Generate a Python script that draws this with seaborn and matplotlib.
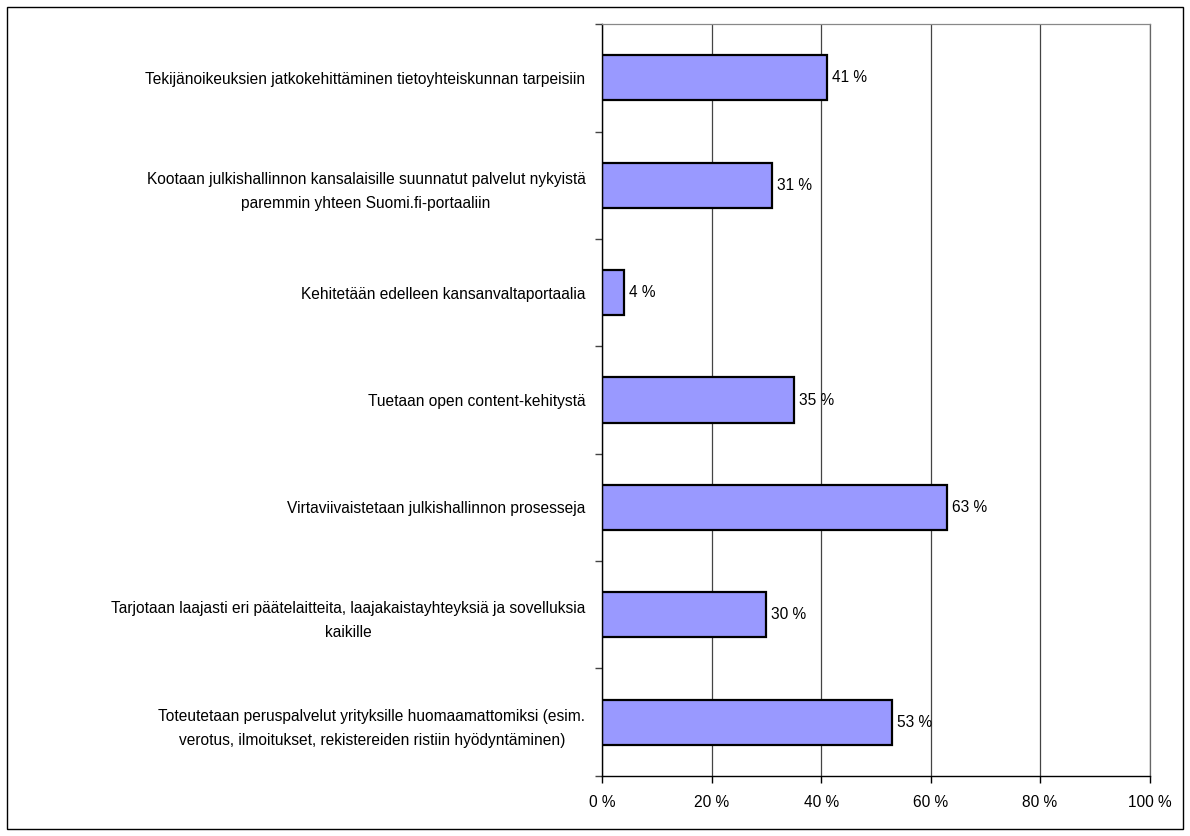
import matplotlib
matplotlib.use("Agg")
import matplotlib.pyplot as plt
import numpy as np
import pandas as pd
import seaborn as sns
from matplotlib.patches import Rectangle

categories = [
    "Tekijänoikeuksien jatkokehittäminen tietoyhteiskunnan tarpeisiin",
    "Kootaan julkishallinnon kansalaisille suunnatut palvelut nykyistä\nparemmin yhteen Suomi.fi-portaaliin",
    "Kehitetään edelleen kansanvaltaportaalia",
    "Tuetaan open content-kehitystä",
    "Virtaviivaistetaan julkishallinnon prosesseja",
    "Tarjotaan laajasti eri päätelaitteita, laajakaistayhteyksiä ja sovelluksia\nkaikille",
    "Toteutetaan peruspalvelut yrityksille huomaamattomiksi (esim.\nverotus, ilmoitukset, rekistereiden ristiin hyödyntäminen)",
]
values = [41, 31, 4, 35, 63, 30, 53]
x_ticks = [0, 20, 40, 60, 80, 100]

sns.set_style("white")
plt.rcParams["font.family"] = ["Liberation Sans", "DejaVu Sans"]
plt.rcParams["text.color"] = "black"
plt.rcParams["xtick.color"] = "black"
plt.rcParams["ytick.color"] = "black"

df = pd.DataFrame({"label": categories, "value": values})

fig = plt.figure(figsize=(11.9, 8.36), dpi=100)
ax = fig.add_axes([0.506, 0.072, 0.46, 0.899])

sns.barplot(data=df, y="label", x="value", orient="h", color="#9999FF",
            edgecolor="black", linewidth=1.6, width=0.42, ax=ax, saturation=1)

ax.set_xlim(0, 100)
ax.set_ylim(len(categories) - 0.5, -0.5)
ax.set_xticks(x_ticks)
ax.set_xticklabels([f"{t} %" for t in x_ticks], fontsize=11.2)
ax.tick_params(axis="x", bottom=True, direction="out", length=5, width=1,
               color="black", pad=9)
ax.tick_params(axis="y", which="major", left=True, length=0, pad=12, labelsize=11.2)
for lbl in ax.get_yticklabels():
    lbl.set_multialignment("center")
    lbl.set_linespacing(1.75)
ax.set_yticks(np.arange(-0.5, len(categories), 1), minor=True)
ax.tick_params(axis="y", which="minor", left=True, direction="out", length=5,
               width=1, color="#444444")

ax.xaxis.grid(True, color="#444444", linewidth=0.9)
ax.set_axisbelow(True)
ax.set_xlabel("")
ax.set_ylabel("")

ax.spines["top"].set_color("#888888")
ax.spines["top"].set_linewidth(0.9)
ax.spines["right"].set_color("#666666")
ax.spines["right"].set_linewidth(0.9)
ax.spines["left"].set_color("black")
ax.spines["bottom"].set_color("black")
ax.spines["left"].set_linewidth(1)
ax.spines["bottom"].set_linewidth(1)

for i, v in enumerate(values):
    ax.text(v + 0.9, i, f"{v} %", va="center", ha="left", fontsize=11.2)

fig.patches.append(Rectangle((7 / 1190, 7 / 836), 1176 / 1190, 822 / 836,
                             transform=fig.transFigure, fill=False,
                             edgecolor="black", linewidth=1))

fig.savefig("out.png", dpi=100)
